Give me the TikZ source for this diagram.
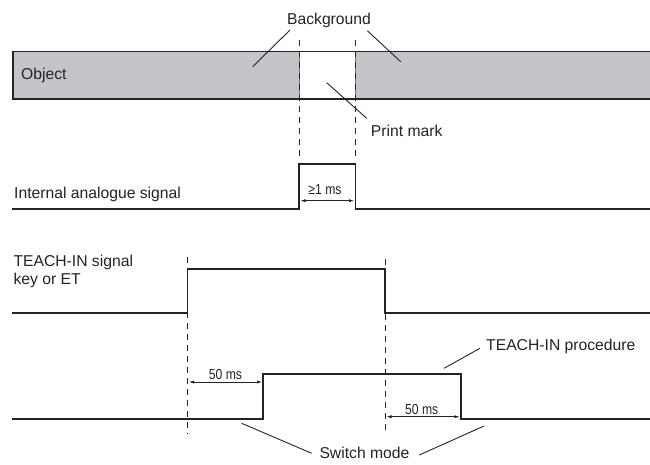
\documentclass[tikz,border=0pt]{standalone}
\usepackage{fontspec}
\setmainfont{Liberation Sans}
\usetikzlibrary{arrows.meta}
\definecolor{bargray}{RGB}{196,197,201}
\definecolor{ink}{RGB}{35,35,35}
\definecolor{markedge}{RGB}{120,120,120}
\begin{document}
\begin{tikzpicture}[x=1pt,y=-1pt,
 lbl/.style={inner sep=0pt,font=\fontsize{15.7}{18}\selectfont,text=ink},
 small/.style={inner sep=0pt,font=\fontsize{14.5}{16}\selectfont,text=ink},
 sig/.style={line width=1.8pt,draw=ink,line join=miter},
 leader/.style={line width=0.9pt,draw=ink},
 guide/.style={line width=0.9pt,draw=ink,dash pattern=on 6pt off 5pt},
 dim/.style={line width=0.7pt,draw=ink,{Latex[length=5pt,width=3.2pt]}-{Latex[length=5pt,width=3.2pt]}}]
\useasboundingbox (0,0) rectangle (650,464);
% object bar
\fill[bargray] (13,51.5) rectangle (650,99);
\fill[white] (299,51.5) rectangle (355.5,99);
\draw[markedge,line width=0.9pt] (299,51.5) -- (299,99) (355.5,51.5) -- (355.5,99);
\draw[ink,line width=1.1pt] (650,51.5) -- (13,51.5) -- (13,99) -- (650,99);
% guides
\draw[guide] (299,40) -- (299,156);
\draw[guide] (355.5,40) -- (355.5,156);
\draw[guide] (187.5,257) -- (187.5,434);
\draw[guide] (385,259) -- (385,434);
% signals
\draw[sig] (12,209) -- (299,209) -- (299,164) -- (355.5,164) -- (355.5,209) -- (650,209);
\draw[sig] (12,313.3) -- (187.5,313.3) -- (187.5,269) -- (385,269) -- (385,313.3) -- (650,313.3);
\draw[sig] (12,419.3) -- (263.3,419.3) -- (263.3,374.3) -- (460.7,374.3) -- (460.7,419.3) -- (650,419.3);
% labels
\node[lbl,anchor=base] (bg) at (329,24) {Background};
\node[lbl,anchor=base west] (obj) at (21,79) {Object};
\node[lbl,anchor=base west] (pm) at (370.7,136.7) {Print mark};
\node[lbl,anchor=base west] (ias) at (14,198.3) {Internal analogue signal};
\node[lbl,anchor=base west,align=left] (teach) at (13.3,284.3) {TEACH-IN signal\\key or ET};
\node[lbl,anchor=base west] (proc) at (486,350.7) {TEACH-IN procedure};
\node[lbl,anchor=base west] (sw) at (319.3,458.5) {Switch mode};
\node[small,anchor=base] (ge1) at (325,194) {\scalebox{0.84}[1]{≥1 ms}};
\node[small,anchor=base] (fiftya) at (225.5,379.3) {\scalebox{0.84}[1]{50 ms}};
\node[small,anchor=base] (fiftyb) at (421.7,414.3) {\scalebox{0.84}[1]{50 ms}};
% dimension arrows
\coordinate (d1a) at (300.5,200.7); \coordinate (d1b) at (354,200.7);
\coordinate (d2a) at (189,382); \coordinate (d2b) at (262,382);
\coordinate (d3a) at (386.5,416.7); \coordinate (d3b) at (459.5,416.7);
\draw[dim] (d1a) -- (d1b);
\draw[dim] (d2a) -- (d2b);
\draw[dim] (d3a) -- (d3b);
% leaders
\coordinate (bgl1) at (290,30); \coordinate (bgl2) at (252.7,66.7);
\coordinate (bgr1) at (367.3,30.7); \coordinate (bgr2) at (400.7,61.7);
\coordinate (pm1) at (326.7,82.7); \coordinate (pm2) at (366.7,118.3);
\coordinate (pr1) at (444,368.3); \coordinate (pr2) at (480,348.3);
\coordinate (swl1) at (241.7,423.3); \coordinate (swl2) at (311.7,453.3);
\coordinate (swr1) at (484,426); \coordinate (swr2) at (419.3,455);
\draw[leader] (bgl1) -- (bgl2);
\draw[leader] (bgr1) -- (bgr2);
\draw[leader] (pm1) -- (pm2);
\draw[leader] (pr1) -- (pr2);
\draw[leader] (swl1) -- (swl2);
\draw[leader] (swr1) -- (swr2);
\end{tikzpicture}
\end{document}
